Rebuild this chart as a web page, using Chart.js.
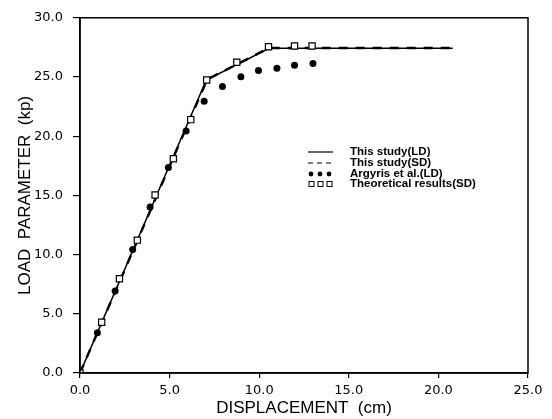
<!DOCTYPE html>
<html>
<head>
<meta charset="utf-8">
<script src="https://cdn.jsdelivr.net/npm/chart.js@4/dist/chart.umd.min.js"></script>
<style>
html,body{margin:0;padding:0;background:#fff;}
#wrap{width:552px;height:419px;}
</style>
</head>
<body>
<div id="wrap"><canvas id="c" width="552" height="419"></canvas></div>
<script>
// ---- data ----
const seriesNames = ['This study(LD)', 'This study(SD)', 'Argyris et al.(LD)', 'Theoretical results(SD)'];

const ldX = [0, 7.05, 10.55, 20.8];
const ldY = [0, 24.75, 27.42, 27.42];

const sdX = [0, 7.1, 10.55, 20.8];
const sdY = [0, 24.8, 27.45, 27.45];

const argX = [0, 0.97, 1.96, 2.94, 3.91, 4.93, 5.92, 6.93, 7.95, 8.98, 9.96, 10.99, 11.97, 13.0];
const argY = [0, 3.4, 6.93, 10.44, 14.03, 17.35, 20.44, 22.95, 24.2, 25.02, 25.55, 25.74, 26.0, 26.13];

const thX = [0, 1.21, 2.2, 3.2, 4.19, 5.21, 6.18, 7.07, 8.75, 10.52, 11.97, 12.95];
const thY = [0, 4.28, 7.96, 11.22, 15.03, 18.1, 21.4, 24.75, 26.24, 27.56, 27.62, 27.62];

const xTicks = [0, 5, 10, 15, 20, 25];
const yTicks = [0, 5, 10, 15, 20, 25, 30];

const xTitle = 'DISPLACEMENT  (cm)';
const yTitle = 'LOAD  PARAMETER  (kp)';

const pts = (xs, ys) => xs.map((x, i) => ({x: x, y: ys[i]}));

const boxPlugin = {
  id: 'box',
  afterDraw(chart) {
    const a = chart.chartArea, ctx = chart.ctx;
    ctx.save();
    ctx.strokeStyle = '#000';
    ctx.lineWidth = 1.5;
    ctx.strokeRect(a.left, a.top, a.right - a.left, a.bottom - a.top);
    ctx.restore();
  }
};

const legendPlugin = {
  id: 'customLegend',
  afterDraw(chart) {
    const ctx = chart.ctx;
    const x0 = 308, x1 = 333, tx = 350;
    const rows = [152, 163, 174, 184];
    ctx.save();
    ctx.fillStyle = '#000';
    ctx.strokeStyle = '#000';
    ctx.font = 'bold 11.5px "Liberation Sans", Arial, sans-serif';
    ctx.textBaseline = 'middle';
    ctx.textAlign = 'left';
    ctx.lineWidth = 1.2;
    ctx.beginPath(); ctx.moveTo(x0, rows[0]); ctx.lineTo(x1, rows[0]); ctx.stroke();
    ctx.setLineDash([5, 4]);
    ctx.beginPath(); ctx.moveTo(x0, rows[1]); ctx.lineTo(x1, rows[1]); ctx.stroke();
    ctx.setLineDash([]);
    for (let k = 0; k < 3; k++) {
      ctx.beginPath(); ctx.arc(x0 + 3 + k * 9, rows[2], 2.4, 0, Math.PI * 2); ctx.fill();
    }
    ctx.lineWidth = 1;
    for (let k = 0; k < 3; k++) {
      ctx.strokeRect(x0 + 1 + k * 9, rows[3] - 2.5, 5, 5);
    }
    seriesNames.forEach((n, i) => ctx.fillText(n, tx, rows[i]));
    ctx.restore();
  }
};

new Chart(document.getElementById('c'), {
  type: 'scatter',
  data: {
    datasets: [
      {
        label: seriesNames[0], data: pts(ldX, ldY), showLine: true,
        borderColor: '#000', borderWidth: 1.5, pointRadius: 0, fill: false, order: 2
      },
      {
        label: seriesNames[1], data: pts(sdX, sdY), showLine: true,
        borderColor: '#000', borderWidth: 2.4, borderDash: [9, 8], pointRadius: 0, fill: false, order: 3
      },
      {
        label: seriesNames[2], data: pts(argX, argY), showLine: false,
        pointStyle: 'circle', pointRadius: 3.5, backgroundColor: '#000', borderColor: '#000', borderWidth: 0, order: 1
      },
      {
        label: seriesNames[3], data: pts(thX, thY), showLine: false,
        pointStyle: 'rect', pointRadius: 4.4, backgroundColor: '#fff', borderColor: '#000', borderWidth: 1.2, order: 0
      }
    ]
  },
  options: {
    responsive: false,
    animation: false,
    events: [],
    layout: {padding: {left: 0, top: 11, right: 24, bottom: 0}},
    plugins: {legend: {display: false}, tooltip: {enabled: false}},
    scales: {
      x: {
        type: 'linear', min: 0, max: 25,
        afterFit(s) { s.height = 46; },
        afterBuildTicks(s) { s.ticks = xTicks.map(v => ({value: v})); },
        grid: {display: true, drawOnChartArea: false, drawTicks: true, tickLength: 5, color: '#000', lineWidth: 1.2},
        border: {display: true, color: '#000', width: 1.5},
        ticks: {
          color: '#000', padding: 5, maxRotation: 0,
          font: {family: '"DejaVu Sans", sans-serif', size: 13},
          callback: v => Number(v).toFixed(1)
        },
        title: {
          display: true, text: xTitle, color: '#000',
          font: {family: '"Liberation Sans", Arial, sans-serif', size: 17},
          padding: {top: 1, bottom: 0}
        }
      },
      y: {
        type: 'linear', min: 0, max: 30,
        afterFit(s) { s.width = 80; },
        afterBuildTicks(s) { s.ticks = yTicks.map(v => ({value: v})); },
        grid: {display: true, drawOnChartArea: false, drawTicks: true, tickLength: 7, color: '#000', lineWidth: 1.2},
        border: {display: true, color: '#000', width: 1.5},
        ticks: {
          color: '#000', padding: 10,
          font: {family: '"DejaVu Sans", sans-serif', size: 13},
          callback: v => Number(v).toFixed(1)
        },
        title: {
          display: true, text: yTitle, color: '#000',
          font: {family: '"Liberation Sans", Arial, sans-serif', size: 17},
          padding: {top: 15, bottom: 0}
        }
      }
    }
  },
  plugins: [boxPlugin, legendPlugin]
});
</script>
</body>
</html>
